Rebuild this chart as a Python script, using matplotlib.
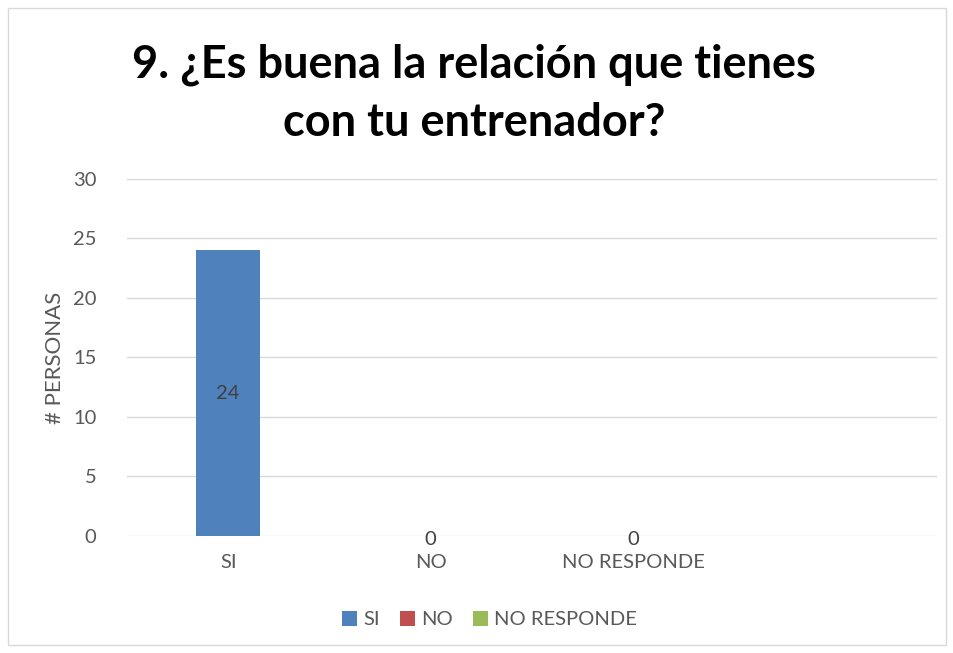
import matplotlib.pyplot as plt
from matplotlib.patches import Rectangle

plt.rcParams['font.family'] = ['Lato', 'DejaVu Sans']

categories = ['SI', 'NO', 'NO RESPONDE']
values = [24, 0, 0]
colors = ['#4f81bd', '#c0504d', '#9bbb59']
title = '9. ¿Es buena la relación que tienes\ncon tu entrenador?'

txt = '#595959'

fig = plt.figure(figsize=(9.54, 6.53), dpi=100)
fig.patches.append(Rectangle((0.008, 0.012), 0.984, 0.975, transform=fig.transFigure,
                             fill=False, edgecolor='#d9d9d9', linewidth=1))

ax = fig.add_axes([0.1331, 0.1792, 0.8491, 0.5467])
bars = []
for i, (c, v, col) in enumerate(zip(categories, values, colors)):
    b = ax.bar(i, v, width=0.316, color=col, label=c, zorder=3)
    bars.append(b)
    if v > 0:
        ax.text(i, v / 2, str(v), ha='center', va='center', fontsize=14.5, color='#404040', zorder=4)
    else:
        ax.text(i, -0.3, str(v), ha='center', va='center', fontsize=14.5, color='#404040', zorder=4,
                clip_on=False)

ax.set_xlim(-0.5, 3.5)
ax.set_ylim(0, 30)
ax.set_yticks(range(0, 31, 5))
ax.set_xticks(range(len(categories)))
ax.set_xticklabels(categories)
ax.tick_params(axis='both', length=0, colors=txt, labelsize=14.5)
ax.tick_params(axis='y', pad=22)
ax.tick_params(axis='x', pad=13)
ax.grid(axis='y', color='#d9d9d9', linewidth=1, zorder=0)
for s in ax.spines.values():
    s.set_visible(False)
ax.set_ylabel('# PERSONAS', fontsize=16, color=txt, labelpad=6)

fig.text(0.497, 0.856, title, ha='center', va='center', fontsize=32.5, fontweight='bold',
         color='black', linespacing=1.46)

fig.legend(handles=[b[0] for b in bars], labels=categories, loc='center',
           bbox_to_anchor=(0.513, 0.051), ncol=3, frameon=False, fontsize=14.5,
           handlelength=0.75, handleheight=0.75, handletextpad=0.3, columnspacing=1.0,
           labelcolor=txt)

fig.savefig('out.png', dpi=100)
